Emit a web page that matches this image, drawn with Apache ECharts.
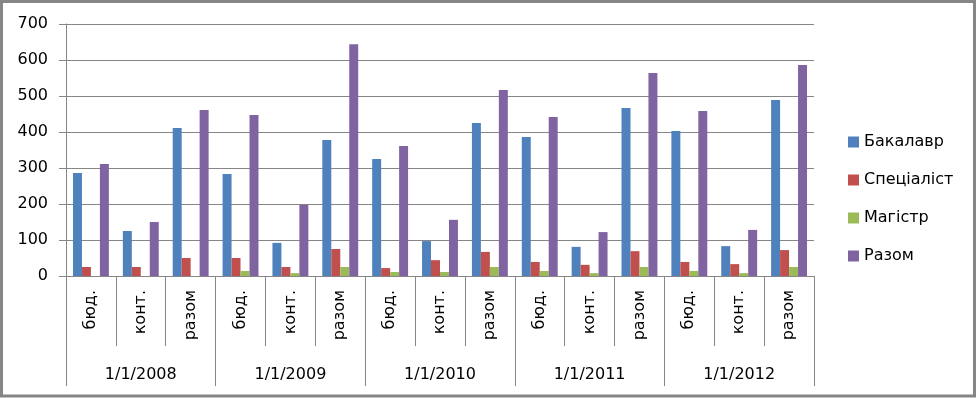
<!DOCTYPE html>
<html>
<head>
<meta charset="utf-8">
<script src="https://cdn.jsdelivr.net/npm/echarts@6/dist/echarts.min.js"></script>
<style>
html,body{margin:0;padding:0;background:#fff;}
#c{width:977px;height:398px;}
</style>
</head>
<body>
<div id="c"></div>
<script>
const subCategories = ['бюд.','конт.','разом','бюд.','конт.','разом','бюд.','конт.','разом','бюд.','конт.','разом','бюд.','конт.','разом'];
const years = ['1/1/2008','1/1/2009','1/1/2010','1/1/2011','1/1/2012'];
const seriesNames = ['Бакалавр','Спеціаліст','Магістр','Разом'];
const bachelor   = [286,125,411, 283,92,378, 325,97,425, 386,81,467, 403,83,489];
const specialist = [25,25,50, 50,25,75, 22,44,67, 39,31,69, 39,33,72];
const master     = [0,0,0, 14,8,25, 11,11,25, 14,8,25, 14,8,25];
const total      = [311,150,461, 447,198,644, 361,156,517, 442,122,564, 458,128,586];
const yTicks = {min:0, max:700, interval:100};

const colors = ['#4F81BD','#C0504D','#9BBB59','#8064A2'];
const FONT = 'DejaVu Sans';
const gray = '#868686';
const chart = echarts.init(document.getElementById('c'));
const values = [bachelor, specialist, master, total];
chart.setOption({
  backgroundColor:'#fff',
  animation:false,
  color: colors,
  grid:{left:66, right:163, top:24, bottom:122},
  legend:{
    orient:'vertical', left:848, top:134, padding:0,
    itemWidth:11, itemHeight:11, itemGap:22,
    icon:'rect',
    textStyle:{fontFamily:FONT, fontSize:16, color:'#000', lineHeight:16},
    data: seriesNames
  },
  xAxis:[{
    type:'category', data: subCategories, position:'bottom',
    axisLine:{show:true, lineStyle:{color:gray}},
    axisTick:{show:true, interval:0, length:70, lineStyle:{color:gray}},
    axisLabel:{interval:0, rotate:90, margin:14, fontFamily:FONT, fontSize:16, color:'#000'}
  },{
    type:'category', data: years, position:'bottom', offset:0,
    axisLine:{show:false},
    axisTick:{show:true, interval:0, length:110, lineStyle:{color:gray}},
    axisLabel:{interval:0, margin:91, fontFamily:FONT, fontSize:16, color:'#000'}
  }],
  yAxis:{
    type:'value', min:yTicks.min, max:yTicks.max, interval:yTicks.interval,
    axisLine:{show:true, lineStyle:{color:gray}},
    axisTick:{show:true, length:7, lineStyle:{color:gray}},
    axisLabel:{margin:18, fontFamily:FONT, fontSize:16, color:'#000'},
    splitLine:{show:true, lineStyle:{color:gray, width:1}}
  },
  series: seriesNames.map((n,i)=>({
    name:n, type:'bar', xAxisIndex:0, data: values[i],
    barGap:'0%', barCategoryGap:'28%'
  })),
  graphic:[{
    type:'rect', silent:true,
    shape:{x:1.5, y:1.5, width:973, height:394.5},
    style:{fill:'none', stroke:gray, lineWidth:3}
  }]
});
</script>
</body>
</html>
